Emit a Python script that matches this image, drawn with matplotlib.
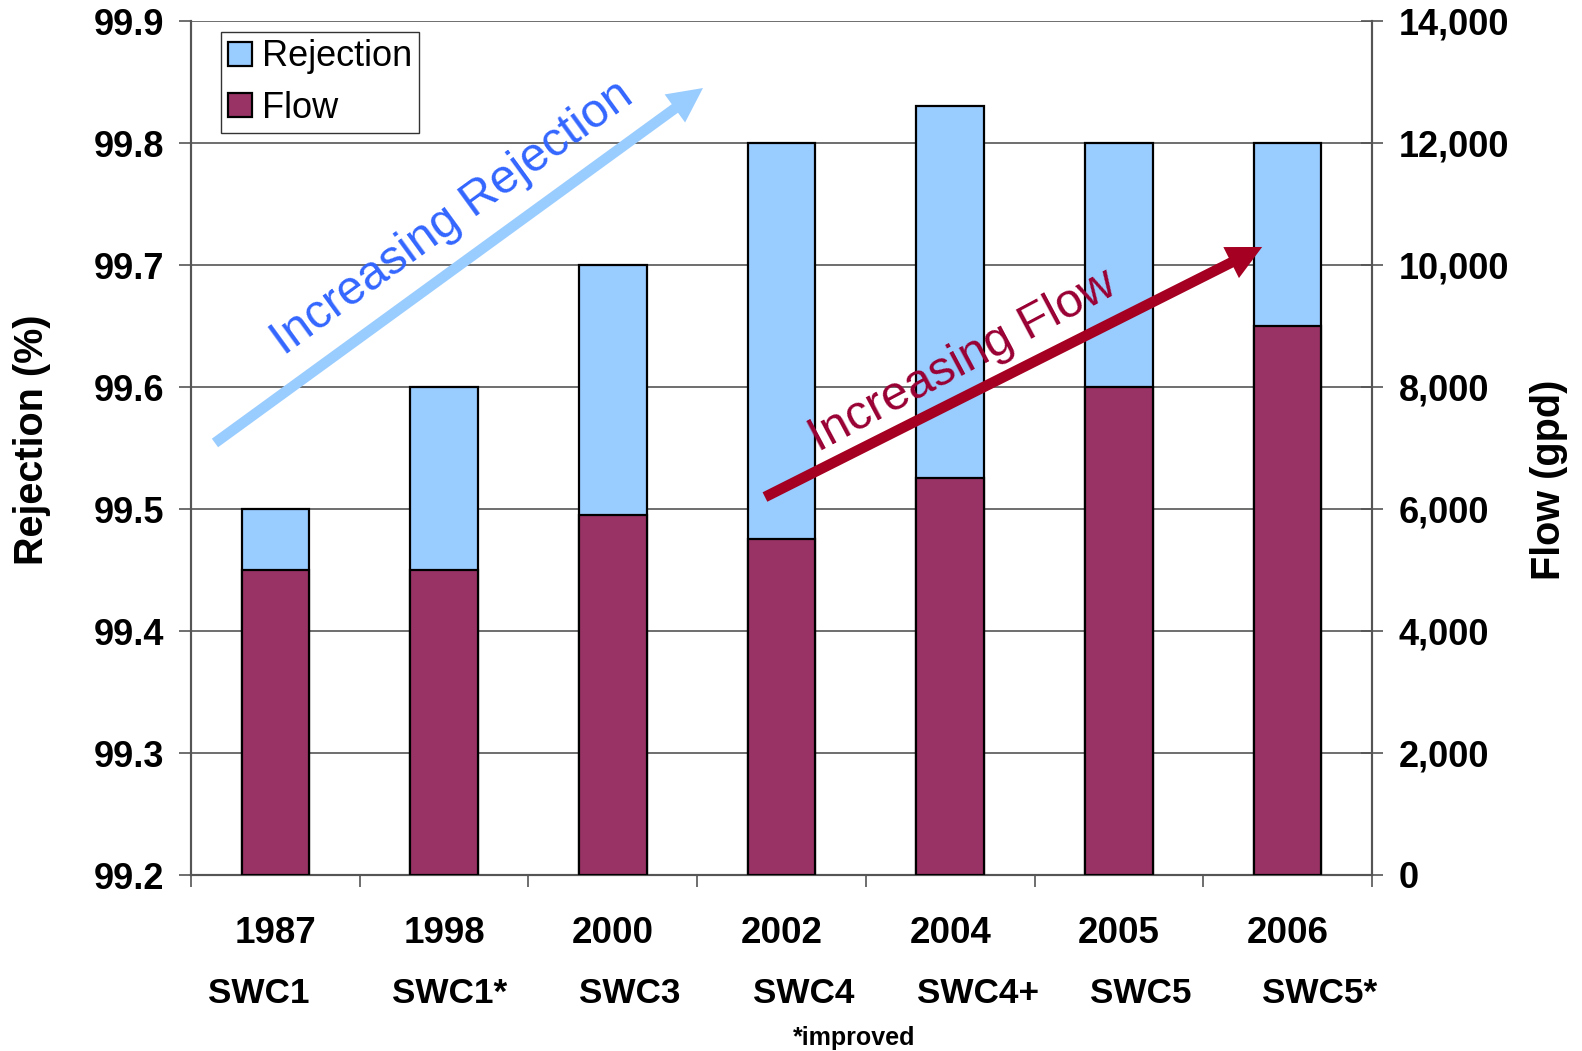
import matplotlib
matplotlib.use("Agg")
import matplotlib.pyplot as plt
import numpy as np
from matplotlib import ticker
from matplotlib.patches import Patch, FancyArrowPatch

plt.rcParams['font.family'] = ['Liberation Sans', 'DejaVu Sans']

years = ["1987", "1998", "2000", "2002", "2004", "2005", "2006"]
models = ["SWC1", "SWC1*", "SWC3", "SWC4", "SWC4+", "SWC5", "SWC5*"]
rejection = [99.5, 99.6, 99.7, 99.8, 99.83, 99.8, 99.8]
flow = [5000, 5000, 5900, 5500, 6500, 8000, 9000]
rej_ticks = [99.2, 99.3, 99.4, 99.5, 99.6, 99.7, 99.8, 99.9]
flow_ticks = [0, 2000, 4000, 6000, 8000, 10000, 12000, 14000]

REJ_C = '#99CCFF'
FLOW_C = '#993366'
SPINE_C = '#555555'

fig = plt.figure(figsize=(15.82, 10.51), dpi=100)
ax = fig.add_axes([191/1582, 1-875/1051, (1372-191)/1582, (875-21)/1051])
ax2 = ax.twinx()

x = np.arange(len(years))
base = rej_ticks[0]
ax.bar(x, np.array(rejection) - base, bottom=base, width=0.4, color=REJ_C,
       edgecolor='black', linewidth=1.6, zorder=2)
ax.set_ylim(rej_ticks[0], rej_ticks[-1])
ax.set_xlim(-0.5, len(years) - 0.5)
ax.set_yticks(rej_ticks)
ax.yaxis.set_major_formatter(ticker.StrMethodFormatter('{x:.1f}'))
ax.grid(axis='y', color='#555555', linewidth=1.2)
ax.set_axisbelow(True)

ax2.bar(x, flow, width=0.4, color=FLOW_C, edgecolor='black', linewidth=1.6, zorder=3)
ax2.set_ylim(flow_ticks[0], flow_ticks[-1])
ax2.set_yticks(flow_ticks)
ax2.yaxis.set_major_formatter(ticker.StrMethodFormatter('{x:,.0f}'))

for a in (ax, ax2):
    a.spines['top'].set_visible(False)
    for s in ('left', 'right', 'bottom'):
        a.spines[s].set_color(SPINE_C)
        a.spines[s].set_linewidth(1.5)

ax.set_xticks(np.arange(len(years) + 1) - 0.5)
ax.set_xticklabels([''] * (len(years) + 1))
ax.tick_params(axis='x', direction='out', length=8.5, width=1.2, color=SPINE_C)
ax.tick_params(axis='y', direction='out', length=8.5, width=1.2, color=SPINE_C,
               pad=11, labelsize=26)
ax2.tick_params(axis='y', direction='inout', length=16.5, width=1.2, color=SPINE_C,
                pad=11, labelsize=26)
for lab in ax.get_yticklabels() + ax2.get_yticklabels():
    lab.set_fontweight('bold')

trans = ax.get_xaxis_transform()
model_dx = [-0.1, 0.035, 0.1, 0.13, 0.165, 0.13, 0.19]
for i in range(len(years)):
    ax.text(x[i], -0.068, years[i], transform=trans, ha='center', va='center',
            fontsize=26.5, fontweight='bold')
    ax.text(x[i] + model_dx[i], -0.139, models[i], transform=trans, ha='center',
            va='center', fontsize=25.3, fontweight='bold')

fig.text(854/1582, 1-1038/1051, '*improved', ha='center', va='center',
         fontsize=18, fontweight='bold')
fig.text(32/1582, 1-440/1051, 'Rejection (%)', rotation=90, ha='center', va='center',
         fontsize=28.5, fontweight='bold')
fig.text(1549/1582, 1-480/1051, 'Flow (gpd)', rotation=90, ha='center', va='center',
         fontsize=28.5, fontweight='bold')

# trend arrows
arr_style = 'simple,head_length=25,head_width=25,tail_width=7.6'
blue_arrow = FancyArrowPatch((0.0203, 0.5059), (0.4335, 0.9215), transform=ax2.transAxes,
                             arrowstyle=arr_style, mutation_scale=1, color=REJ_C,
                             linewidth=0, shrinkA=0, shrinkB=0, zorder=6)
red_arrow = FancyArrowPatch((0.486, 0.4426), (0.907, 0.7354), transform=ax2.transAxes,
                            arrowstyle=arr_style, mutation_scale=1, color='#A50021',
                            linewidth=0, shrinkA=0, shrinkB=0, zorder=6)
ax2.add_patch(blue_arrow)
ax2.add_patch(red_arrow)
ax2.text(0.228, 0.757, 'Increasing Rejection', transform=ax2.transAxes, rotation=36,
         rotation_mode='anchor', ha='center', va='baseline', fontsize=34.5,
         color='#3366FF', zorder=7)
ax2.text(0.658, 0.589, 'Increasing Flow', transform=ax2.transAxes, rotation=28,
         rotation_mode='anchor', ha='center', va='baseline', fontsize=35,
         color='#990033', zorder=7)

handles = [Patch(facecolor=REJ_C, edgecolor='black', linewidth=1.6, label='Rejection'),
           Patch(facecolor=FLOW_C, edgecolor='black', linewidth=1.6, label='Flow')]
leg = ax2.legend(handles=handles, loc='upper left', bbox_to_anchor=(0.0255, 0.987),
                 fontsize=26, frameon=True, fancybox=False, borderpad=0.2,
                 handlelength=0.65, handleheight=0.65, handletextpad=0.28,
                 labelspacing=0.45, borderaxespad=0)
leg.get_frame().set_edgecolor('black')
leg.get_frame().set_linewidth(1.0)
leg.set_zorder(10)

fig.savefig('out.png', dpi=100)
